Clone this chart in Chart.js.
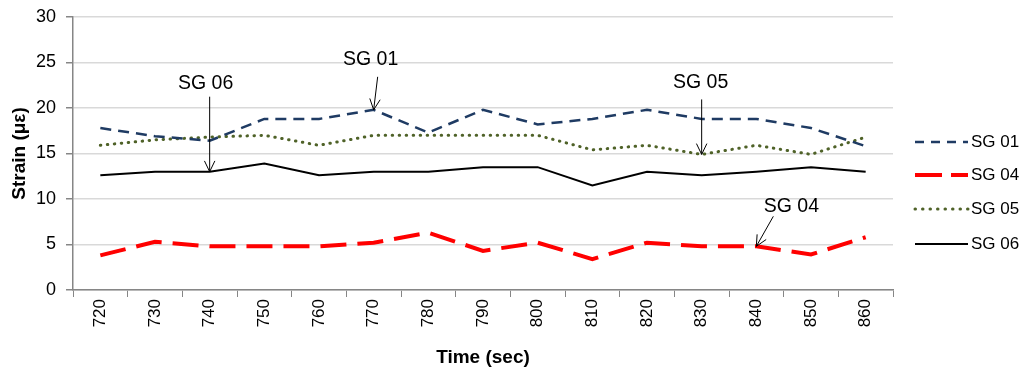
<!DOCTYPE html>
<html>
<head>
<meta charset="utf-8">
<script src="https://cdn.jsdelivr.net/npm/chart.js@4.4.0/dist/chart.umd.min.js"></script>
<style>
  html, body { margin: 0; padding: 0; background: #fff; }
  #wrap { width: 1028px; height: 369px; position: relative; }
</style>
</head>
<body>
<div id="wrap"><canvas id="strainChart"></canvas></div>
<script>
// Chart data
const timeLabels = ["720", "730", "740", "750", "760", "770", "780", "790", "800", "810", "820", "830", "840", "850", "860"];
const sg01 = [17.8, 16.9, 16.4, 18.8, 18.8, 19.8, 17.3, 19.8, 18.2, 18.8, 19.8, 18.8, 18.8, 17.8, 15.8];
const sg04 = [3.8, 5.3, 4.8, 4.8, 4.8, 5.2, 6.3, 4.3, 5.2, 3.4, 5.2, 4.8, 4.8, 3.9, 5.8];
const sg05 = [15.9, 16.5, 16.8, 17.0, 15.9, 17.0, 17.0, 17.0, 17.0, 15.4, 15.9, 14.9, 15.9, 14.9, 16.8];
const sg06 = [12.6, 13.0, 13.0, 13.9, 12.6, 13.0, 13.0, 13.5, 13.5, 11.5, 13.0, 12.6, 13.0, 13.5, 13.0];
const yTicks = [0, 5, 10, 15, 20, 25, 30];

// Callout labels: which series/point the arrow points at
const callouts = [
  { text: "SG 06", dataset: 3, index: 2 },
  { text: "SG 01", dataset: 0, index: 5 },
  { text: "SG 05", dataset: 2, index: 11 },
  { text: "SG 04", dataset: 1, index: 12 },
];
// pixel offsets of text and arrow tail relative to the point (style only)
const calloutOffsets = [
  { tx: -4, ty: -88, ax: 0, ay: -75 },
  { tx: -3, ty: -50, ax: 4, ay: -33 },
  { tx: -1, ty: -72, ax: 0, ay: -55 },
  { tx: 35, ty: -40, ax: 17, ay: -30 },
];

const FONT = "'Liberation Sans', Arial, sans-serif";

const calloutPlugin = {
  id: "callouts",
  afterDatasetsDraw(chart) {
    const ctx = chart.ctx;
    ctx.save();
    callouts.forEach((c, i) => {
      const pt = chart.getDatasetMeta(c.dataset).data[c.index];
      const off = calloutOffsets[i];
      const x = pt.x, y = pt.y;
      ctx.fillStyle = "#000";
      ctx.font = "19.5px " + FONT;
      ctx.textAlign = "center";
      ctx.textBaseline = "middle";
      ctx.fillText(c.text, x + off.tx, y + off.ty);
      // arrow
      const sx = x + off.ax, sy = y + off.ay;
      ctx.strokeStyle = "#000";
      ctx.lineWidth = 1;
      ctx.setLineDash([]);
      ctx.beginPath();
      ctx.moveTo(sx, sy);
      ctx.lineTo(x, y);
      const ang = Math.atan2(y - sy, x - sx);
      const len = 12, spread = 0.45;
      ctx.moveTo(x - len * Math.cos(ang - spread), y - len * Math.sin(ang - spread));
      ctx.lineTo(x, y);
      ctx.lineTo(x - len * Math.cos(ang + spread), y - len * Math.sin(ang + spread));
      ctx.stroke();
    });
    ctx.restore();
  },
};

const legendPlugin = {
  id: "sideLegend",
  afterDraw(chart) {
    const ctx = chart.ctx;
    const area = chart.chartArea;
    const x0 = area.right + 22;
    const ys = [142, 175, 209, 244];
    ctx.save();
    chart.data.datasets.forEach((ds, i) => {
      const y = ys[i];
      ctx.strokeStyle = ds.borderColor;
      ctx.lineWidth = ds.borderWidth;
      ctx.lineCap = ds.borderCapStyle || "butt";
      ctx.setLineDash(ds.legendDash || ds.borderDash || []);
      ctx.beginPath();
      ctx.moveTo(x0, y);
      ctx.lineTo(x0 + 53, y);
      ctx.stroke();
      ctx.setLineDash([]);
      ctx.fillStyle = "#000";
      ctx.font = "17px " + FONT;
      ctx.textAlign = "left";
      ctx.textBaseline = "middle";
      ctx.fillText(ds.label, x0 + 56, y);
    });
    ctx.restore();
  },
};

const ctx = document.getElementById("strainChart").getContext("2d");
new Chart(ctx, {
  type: "line",
  data: {
    labels: timeLabels,
    datasets: [
      { label: "SG 01", data: sg01, borderColor: "#1f3b63", borderWidth: 2.5, borderDash: [11, 7], legendDash: [9, 7] },
      { label: "SG 04", data: sg04, borderColor: "#ff0000", borderWidth: 4, borderDash: [26, 11], legendDash: [27, 9] },
      { label: "SG 05", data: sg05, borderColor: "#4f6228", borderWidth: 3, borderDash: [0.5, 6.5], borderCapStyle: "round", legendDash: [0.5, 7] },
      { label: "SG 06", data: sg06, borderColor: "#000000", borderWidth: 2 },
    ],
  },
  options: {
    responsive: true,
    maintainAspectRatio: false,
    animation: false,
    elements: {
      point: { radius: 0, hoverRadius: 0 },
      line: { tension: 0 },
    },
    layout: { padding: { left: 0, top: 17, right: 135, bottom: 0 } },
    plugins: {
      legend: { display: false },
      tooltip: { enabled: false },
    },
    scales: {
      x: {
        offset: true,
        grid: { offset: true, drawOnChartArea: false, drawTicks: true, tickLength: 7, tickColor: "#868686" },
        border: { color: "#868686", width: 1.5 },
        ticks: { color: "#000", font: { family: FONT, size: 17 }, maxRotation: 90, minRotation: 90, padding: 2 },
        title: { display: true, text: "Time (sec)", color: "#000", font: { family: FONT, size: 19, weight: "bold" }, padding: { top: 5, bottom: 0 } },
        afterFit(scale) { scale.height = 79; },
      },
      y: {
        min: 0,
        max: 30,
        afterBuildTicks(scale) { scale.ticks = yTicks.map((v) => ({ value: v })); },
        grid: { color: "#d9d9d9", lineWidth: 1.5, tickLength: 7, tickColor: "#868686" },
        border: { color: "#868686", width: 1.5 },
        ticks: { color: "#000", font: { family: FONT, size: 18 }, padding: 10 },
        title: { display: true, text: "Strain (με)", color: "#000", font: { family: FONT, size: 19, weight: "bold" }, padding: { top: 8, bottom: 4 } },
        afterFit(scale) {
          scale.width = 73;
          scale.paddingTop = 0;
          scale.paddingBottom = 0;
        },
      },
    },
  },
  plugins: [calloutPlugin, legendPlugin],
});
</script>
</body>
</html>
